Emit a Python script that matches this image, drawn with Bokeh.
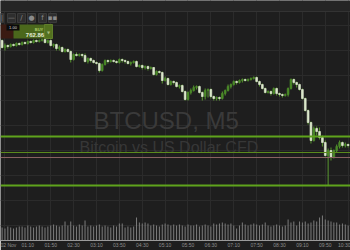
import pandas as pd
from bokeh.plotting import figure
from bokeh.models import Range1d, FixedTicker, SingleIntervalTicker, Span, ColumnDataSource, Label
from bokeh.embed import file_html
from bokeh.resources import INLINE

# ---- data: BTCUSD M5, 2 Nov (5-minute bars from 00:25) ----
bars = list(range(122))
opens = [746.0,745.3,745.5,745.4,745.6,745.5,745.7,745.6,745.8,745.7,
         745.9,745.8,746.0,745.9,746.0,746.1,745.8,746.0,745.5,745.6,
         745.2,745.3,744.9,745.1,744.9,744.1,744.6,744.5,744.6,744.5,
         743.9,744.2,744.0,743.8,743.7,743.0,743.6,744.0,743.9,744.0,
         743.9,743.8,744.1,744.0,743.9,743.7,743.8,743.9,743.4,743.5,
         743.3,743.4,743.2,743.3,742.6,742.9,742.8,742.0,742.2,741.6,
         741.9,741.8,741.4,741.5,740.9,740.1,740.8,741.0,741.3,741.4,
         740.8,740.4,741.0,741.1,740.4,740.2,740.3,740.2,740.7,741.0,
         741.4,741.6,741.9,741.8,742.0,742.1,742.0,742.1,742.2,742.3,
         741.9,741.6,741.2,740.8,740.9,740.7,741.2,740.7,740.6,740.5,
         740.6,741.2,742.1,741.8,741.6,741.1,740.2,739.0,737.8,736.0,
         737.2,736.9,736.3,735.8,734.5,735.0,734.3,735.0,735.4,735.8,
         735.5,735.6]
closes = [745.3,745.5,745.4,745.6,745.5,745.7,745.6,745.8,745.7,745.9,
          745.8,746.0,745.9,746.0,746.1,745.8,746.0,745.5,745.6,745.2,
          745.3,744.9,745.1,744.9,744.1,744.6,744.5,744.6,744.5,743.9,
          744.2,744.0,743.8,743.7,743.0,743.6,744.0,743.9,744.0,743.9,
          743.8,744.1,744.0,743.9,743.7,743.8,743.9,743.4,743.5,743.3,
          743.4,743.2,743.3,742.6,742.9,742.8,742.0,742.2,741.6,741.9,
          741.8,741.4,741.5,740.9,740.1,740.8,741.0,741.3,741.4,740.8,
          740.4,741.0,741.1,740.4,740.2,740.3,740.2,740.7,741.0,741.4,
          741.6,741.9,741.8,742.0,742.1,742.0,742.1,742.2,742.3,741.9,
          741.6,741.2,740.8,740.9,740.7,741.2,740.7,740.6,740.5,740.6,
          741.2,742.1,741.8,741.6,741.1,740.2,739.0,737.8,736.0,737.2,
          736.9,736.3,735.8,734.5,735.0,734.3,735.0,735.4,735.8,735.5,
          735.6,735.5]
highs = [746.1,745.7,745.6,745.7,745.7,745.8,745.8,745.9,745.9,746.0,
         746.0,746.1,746.1,746.1,746.2,746.2,746.1,746.1,745.7,745.7,
         745.5,745.4,745.2,745.2,745.0,744.7,744.8,744.7,744.7,744.7,
         744.3,744.3,744.1,743.9,743.8,743.7,744.1,744.1,744.1,744.1,
         744.0,744.2,744.2,744.1,744.0,743.9,744.0,744.0,743.6,743.6,
         743.5,743.5,743.4,743.3,743.0,743.0,742.9,742.4,742.3,742.0,
         742.0,741.9,741.6,741.6,741.0,740.9,741.2,741.5,741.5,741.5,
         740.9,741.2,741.2,741.2,740.5,740.4,740.4,740.9,741.1,741.6,
         741.7,742.0,742.0,742.1,742.2,742.2,742.2,742.3,742.4,742.4,
         742.0,741.7,741.3,741.0,741.0,741.3,741.3,740.8,740.7,740.7,
         741.3,742.2,742.2,741.9,741.7,741.2,740.3,739.1,737.9,737.4,
         737.4,737.3,736.5,736.0,735.2,735.3,735.1,735.6,736.0,735.9,
         735.8,735.7]
lows = [745.2,745.0,745.2,745.3,745.4,745.4,745.5,745.5,745.6,745.6,
        745.7,745.7,745.8,745.8,745.9,745.7,745.7,745.4,745.3,745.0,
        745.0,744.8,744.8,744.8,743.8,744.0,744.4,744.4,744.3,743.8,
        743.7,743.8,743.7,743.6,742.8,742.9,743.5,743.7,743.8,743.8,
        743.7,743.7,743.8,743.7,743.6,743.5,743.7,743.3,743.3,743.1,
        743.1,743.0,743.1,742.5,742.5,742.7,741.7,741.9,741.5,741.5,
        741.6,741.3,741.2,740.8,740.0,740.0,740.6,740.9,741.1,740.7,
        740.0,740.1,740.3,740.2,740.0,740.0,740.0,740.1,740.5,740.9,
        741.2,741.5,741.6,741.7,741.8,741.9,741.9,742.0,742.1,741.8,
        741.4,741.1,740.7,740.7,740.5,740.6,740.5,740.4,740.3,740.4,
        740.4,741.1,741.6,741.3,741.0,740.1,738.9,737.6,735.7,735.9,
        736.5,736.1,735.4,734.4,731.5,734.0,734.2,734.8,735.2,735.3,
        735.3,735.3]
volumes = [13,12,14,13,12,13,14,
           14,13,15,14,13,14,15,14,13,14,
           15,16,15,14,15,
           19,15,19,
           15,14,16,15,
           20,
           14,15,14,15,16,14,15,14,13,15,14,
           17,17,
           13,14,13,14,
           23,
           18,17,18,17,
           15,16,15,14,
           16,17,16,15,16,
           15,16,15,14,16,15,15,16,14,15,16,15,14,
           17,16,17,18,17,16,17,
           15,12,15,18,
           16,15,16,17,16,15,16,
           18,
           15,14,15,16,15,14,15,
           21,18,19,15,
           19,18,19,17,18,
           20,19,23,25,21,20,19,18,18,
           16,17,16,15]
tick_bars = [1, 9, 17, 25, 33, 41, 49, 57, 65, 73, 81, 89, 97, 105, 113, 121]
tick_labels = ["02 Nov", "01:10", "01:50", "02:30", "03:10", "03:50", "04:30", "05:10",
               "05:50", "06:30", "07:10", "07:50", "08:30", "09:10", "09:50", "10:30"]
levels = [736.4, 734.8, 734.3, 731.5]
symbol = "BTCUSD, M5"
description = "Bitcoin vs US Dollar CFD"
buy_price = "762.86"

# ---- styles ----
BG = "#1e1e1e"
GRID = "#2b2b2b"
BULL = "#4a8a28"
BEAR = "#dbe7cb"
WICK = "#5a9830"
level_colors = ["#5fa31c", "#5a8a1c", "#8a6262", "#5fa31c"]
level_widths = [2, 1, 1, 2]

df = pd.DataFrame(dict(i=bars, o=opens, c=closes, h=highs, l=lows, v=volumes))
df["top"] = df[["o", "c"]].max(axis=1)
df["bottom"] = df[["o", "c"]].min(axis=1)
df["color"] = [BULL if c >= o else BEAR for o, c in zip(df.o, df.c)]
src = ColumnDataSource(df)

p = figure(width=350, height=250, output_backend="svg", toolbar_location=None,
           x_range=Range1d(-0.56, 121.82), y_range=Range1d(726.0, 750.0),
           y_axis_location=None,
           min_border_left=0, min_border_right=0, min_border_top=0, min_border_bottom=0,
           background_fill_color=BG, border_fill_color=BG, outline_line_color=None)
p.extra_y_ranges = {"vol": Range1d(0, 240)}

tk = FixedTicker(ticks=tick_bars)
p.xaxis.ticker = tk
p.xgrid.ticker = tk
p.xaxis.major_label_overrides = {b: t for b, t in zip(tick_bars, tick_labels)}
p.xaxis.major_label_text_font = "Liberation Sans"
p.xaxis.major_label_text_font_size = "5px"
p.xaxis.major_label_text_color = "#8e8e8e"
p.xaxis.major_label_standoff = 1
p.xaxis.major_tick_out = 0
p.xaxis.major_tick_in = 0
p.xaxis.minor_tick_out = 0
p.xaxis.minor_tick_in = 0
p.xaxis.axis_line_color = "#9a9a9a"
p.xaxis.major_tick_line_color = None
p.xaxis.minor_tick_line_color = None
p.xgrid.grid_line_color = GRID
p.ygrid.ticker = SingleIntervalTicker(interval=2.5)
p.ygrid.grid_line_color = GRID

# px -> data helpers for the terminal decorations
def X(px):
    return (px - 1.6) / 2.86

def Y(py):
    return 750.0 - py / 10.0

# watermark
p.add_layout(Label(x=X(93), y=Y(133), text=symbol, text_font="Liberation Sans",
                   text_font_size="24px", text_color="#3a3a3a", level="underlay"))
p.add_layout(Label(x=X(79), y=Y(155), text=description, text_font="Liberation Sans",
                   text_font_size="16px", text_color="#373737", level="underlay"))

# volume
p.vbar(x="i", top="v", bottom=0, width=0.35, source=src, y_range_name="vol",
       fill_color="#7c7c7c", line_color=None)

# candles
p.segment(x0="i", y0="h", x1="i", y1="l", source=src, line_color=WICK, line_width=1)
p.vbar(x="i", top="top", bottom="bottom", width=0.62, source=src,
       fill_color="color", line_color="color", line_width=0.7)

# horizontal levels
for lv, col, w in zip(levels, level_colors, level_widths):
    p.add_layout(Span(location=lv, dimension="width", line_color=col, line_width=w))

# terminal toolbar band + icons
p.quad(left=[X(0)], right=[X(350)], top=[Y(0)], bottom=[Y(11)], fill_color="#252525", line_color=None)
p.segment(x0=[X(0)], y0=[Y(11)], x1=[X(350)], y1=[Y(11)], line_color="#333333", line_width=1)
icon_l = [0, 7, 17, 27, 38, 48]
icon_r = [3, 15, 25, 35, 46, 56]
p.quad(left=[X(a) for a in icon_l], right=[X(b) for b in icon_r], top=[Y(13)] * 6, bottom=[Y(22)] * 6,
       fill_color="#2e2e2e", line_color="#3a3a3a")
for cx, g in zip([1.5, 11, 21, 31, 42, 52], ["|", "—", "/", "●", "f", "▪▪"]):
    p.add_layout(Label(x=X(cx), y=Y(17.5), text=g, text_font="DejaVu Sans", text_font_size="7px",
                       text_color="#8a8a8a", text_align="center", text_baseline="middle"))

# one-click trading panel
p.quad(left=[X(0)], right=[X(13)], top=[Y(24)], bottom=[Y(38)], fill_color="#3a1a12", line_color=None)
p.quad(left=[X(13)], right=[X(52)], top=[Y(24)], bottom=[Y(38)], fill_color="#4b681c", line_color=None)
p.quad(left=[X(44)], right=[X(52)], top=[Y(24)], bottom=[Y(38)], fill_color="#53711f", line_color="#5f7d2a")
p.quad(left=[X(6)], right=[X(19)], top=[Y(24)], bottom=[Y(30)], fill_color="#0b0b0b", line_color=None)
p.add_layout(Label(x=X(12.5), y=Y(27), text="1.00", text_font="Liberation Sans", text_font_size="4px",
                   text_color="#dddddd", text_align="center", text_baseline="middle"))
p.add_layout(Label(x=X(38.5), y=Y(28.5), text="BUY", text_font="Liberation Sans", text_font_size="4px",
                   text_font_style="bold", text_color="#aacc66", text_align="center", text_baseline="middle"))
p.add_layout(Label(x=X(34.5), y=Y(34.5), text=buy_price, text_font="Liberation Sans", text_font_size="6px",
                   text_font_style="bold", text_color="#e2ead6", text_align="center", text_baseline="middle"))
p.add_layout(Label(x=X(48), y=Y(31.5), text="▼", text_font="DejaVu Sans", text_font_size="4px",
                   text_color="#a5b77a", text_align="center", text_baseline="middle"))

open("out.html", "w").write(file_html(p, INLINE))
